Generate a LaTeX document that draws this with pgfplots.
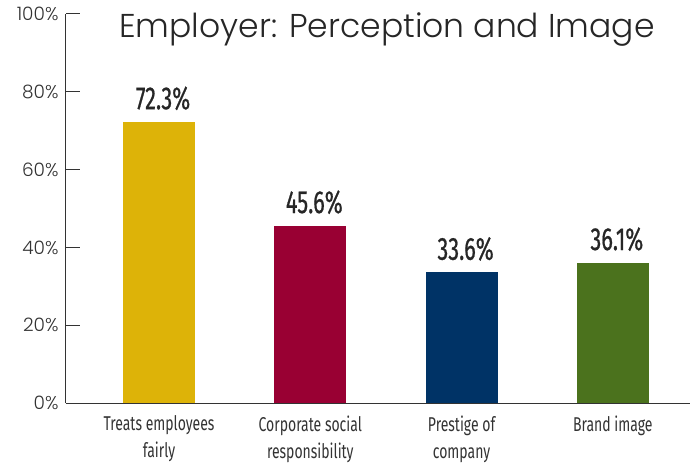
\documentclass[border=0pt]{standalone}
\usepackage{fontspec}
\usepackage{pgfplots}
\pgfplotsset{compat=1.18}
\setmainfont{Poppins Light}
\newfontfamily\condfont[FakeStretch=0.7]{Fira Sans}
\newfontfamily\valfont[FakeStretch=0.68, FakeBold=0.6]{Fira Sans}
\newfontfamily\titlefont{Poppins Light}
\definecolor{cgold}{HTML}{DDB308}
\definecolor{ccrim}{HTML}{990033}
\definecolor{cnavy}{HTML}{003366}
\definecolor{cgreen}{HTML}{4B721D}
\definecolor{axisgray}{HTML}{333333}
\begin{document}
\begin{tikzpicture}
\begin{axis}[
  scale only axis,
  width=624pt, height=389pt,
  xmin=-0.615, xmax=3.51, ymin=0, ymax=100,
  axis x line=bottom, axis y line=left,
  axis line style={-, draw=axisgray, line width=1pt},
  ytick={0,20,...,100},
  yticklabel={\pgfmathprintnumber{\tick}\%},
  yticklabel style={font=\fontsize{18.5}{22}\selectfont, text=axisgray, xshift=-4pt},
  /pgf/number format/assume math mode=true,
  tick align=inside,
  major tick length=14pt,
  ytick style={draw=axisgray, line width=1pt},
  xtick={0,1,2,3},
  xticklabels={{Treats employees\\fairly},{Corporate social\\responsibility},{Prestige of\\company},{Brand image}},
  xticklabel style={align=center, font=\condfont\fontsize{20}{27}\selectfont, text=axisgray, yshift=-9pt},
  xtick style={draw=none},
  bar width=72pt,
  nodes near coords={\pgfmathprintnumber[fixed,precision=1,fixed zerofill,assume math mode=true]{\pgfplotspointmeta}\%},
  nodes near coords style={anchor=south, yshift=8pt, xshift=4pt, font=\valfont\fontsize{32}{34}\selectfont, text=black!85},
  clip=false,
]
\addplot[ybar, draw=none, fill=cgold] coordinates {(0,72.3)};
\addplot[ybar, draw=none, fill=ccrim] coordinates {(1,45.6)};
\addplot[ybar, draw=none, fill=cnavy] coordinates {(2,33.6)};
\addplot[ybar, draw=none, fill=cgreen] coordinates {(3,36.1)};
\node[font=\titlefont\fontsize{33}{36}\selectfont, text=black!85] at (axis cs:1.507,96.0) {Employer: Perception and Image};
\end{axis}
\pgfresetboundingbox
\path[use as bounding box] (-66pt,-60pt) rectangle (624pt,403pt);
\end{tikzpicture}
\end{document}
